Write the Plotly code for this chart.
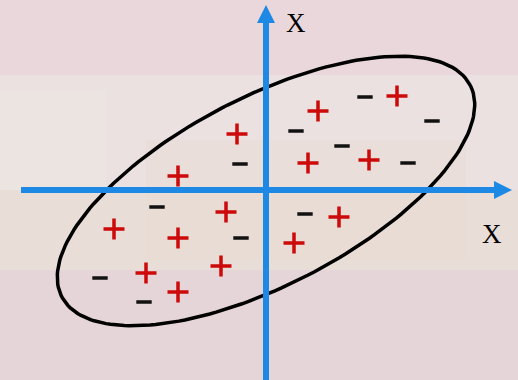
import numpy as np
import plotly.graph_objects as go

# Data (diagram coordinates, origin at axis crossing, y up)
plus_x = [52, 131, 42, 103, -29, -88, -40, -152, -88, -120, -45, -88, 73, 28]
plus_y = [79, 94, 27, 30, 56, 14, -22, -39, -48, -83, -76, -102, -27, -53]
minus_x = [99, 166, 30, 76, 142, -26, -109, -25, -166, -122, 39]
minus_y = [93, 69, 59, 44, 27, 26, -17, -48, -88, -112, -24]

# Ellipse parameters
ell_cx, ell_cy = 0, -1
ell_a, ell_b = 230, 94
ell_angle_deg = 27.4

axis_labels = ["X", "X"]
axis_label_x = [30, 226]
axis_label_y = [167, -44]

RED = "#cc0a0a"
BLUE = "#1e88e5"
W, H = 518, 380
ox, oy = 266, 190  # origin pixel

fig = go.Figure()

# ellipse path
t = np.linspace(0, 2 * np.pi, 200)
th = np.deg2rad(ell_angle_deg)
ex = ell_cx + ell_a * np.cos(t) * np.cos(th) - ell_b * np.sin(t) * np.sin(th)
ey = ell_cy + ell_a * np.cos(t) * np.sin(th) + ell_b * np.sin(t) * np.cos(th)
fig.add_trace(go.Scatter(x=ex, y=ey, mode="lines",
                         line=dict(color="black", width=3.5),
                         hoverinfo="skip", showlegend=False))

fig.add_trace(go.Scatter(x=plus_x, y=plus_y, mode="markers",
                         marker=dict(symbol="cross-thin", size=15, color=RED,
                                     line=dict(width=3.5, color=RED)),
                         showlegend=False))
fig.add_trace(go.Scatter(x=minus_x, y=minus_y, mode="markers",
                         marker=dict(symbol="line-ew", size=11, color="#111",
                                     line=dict(width=3.5, color="#111")),
                         showlegend=False))

xmin, xmax = -ox, W - ox
ymin, ymax = oy - H, oy

shapes = []
# background washes
bg = [
    (xmin, 190, xmax, 115, "#e9d7db", 1.0),
    (xmin, 115, xmax, 0, "#eae1e0", 1.0),
    (xmin, 0, xmax, -80, "#e9ddd8", 1.0),
    (xmin, -80, xmax, ymin, "#e5d4d8", 1.0),
    (-120, 50, 200, -70, "#e8dcd2", 0.5),
    (xmin, 100, -160, 0, "#ece7e2", 0.5),
]
for x0, y0, x1, y1, c, op in bg:
    shapes.append(dict(type="rect", x0=x0, y0=y0, x1=x1, y1=y1, xref="x", yref="y",
                       fillcolor=c, opacity=op, line=dict(width=0), layer="below"))

# axes
shapes.append(dict(type="line", x0=-245, y0=0, x1=229, y1=0, xref="x", yref="y",
                   line=dict(color=BLUE, width=6), layer="above"))
shapes.append(dict(type="path", path="M 228,9 L 246,0 L 228,-9 Z", xref="x", yref="y",
                   fillcolor=BLUE, line=dict(width=0), layer="above"))
shapes.append(dict(type="line", x0=0, y0=ymin, x1=0, y1=168, xref="x", yref="y",
                   line=dict(color=BLUE, width=6), layer="above"))
shapes.append(dict(type="path", path="M -9,167 L 0,185 L 9,167 Z", xref="x", yref="y",
                   fillcolor=BLUE, line=dict(width=0), layer="above"))

annotations = []
for lab, lx, ly in zip(axis_labels, axis_label_x, axis_label_y):
    annotations.append(dict(x=lx, y=ly, text=lab, showarrow=False, xref="x", yref="y",
                            font=dict(family="Liberation Serif", size=27, color="black")))

fig.update_layout(
    width=W, height=H, margin=dict(l=0, r=0, t=0, b=0),
    paper_bgcolor="#e8d8da", plot_bgcolor="#e8d8da",
    xaxis=dict(range=[xmin, xmax], visible=False, fixedrange=True),
    yaxis=dict(range=[ymin, ymax], visible=False, fixedrange=True),
    shapes=shapes, annotations=annotations, showlegend=False,
)

fig.write_html("out.html", config={"displayModeBar": False})

with open("out.html", "r", encoding="utf-8") as f:
    html = f.read()
html = html.replace("<head>", "<head><style>html,body{margin:0;padding:0;overflow:hidden;background:#e8d8da;}</style>", 1)
with open("out.html", "w", encoding="utf-8") as f:
    f.write(html)
